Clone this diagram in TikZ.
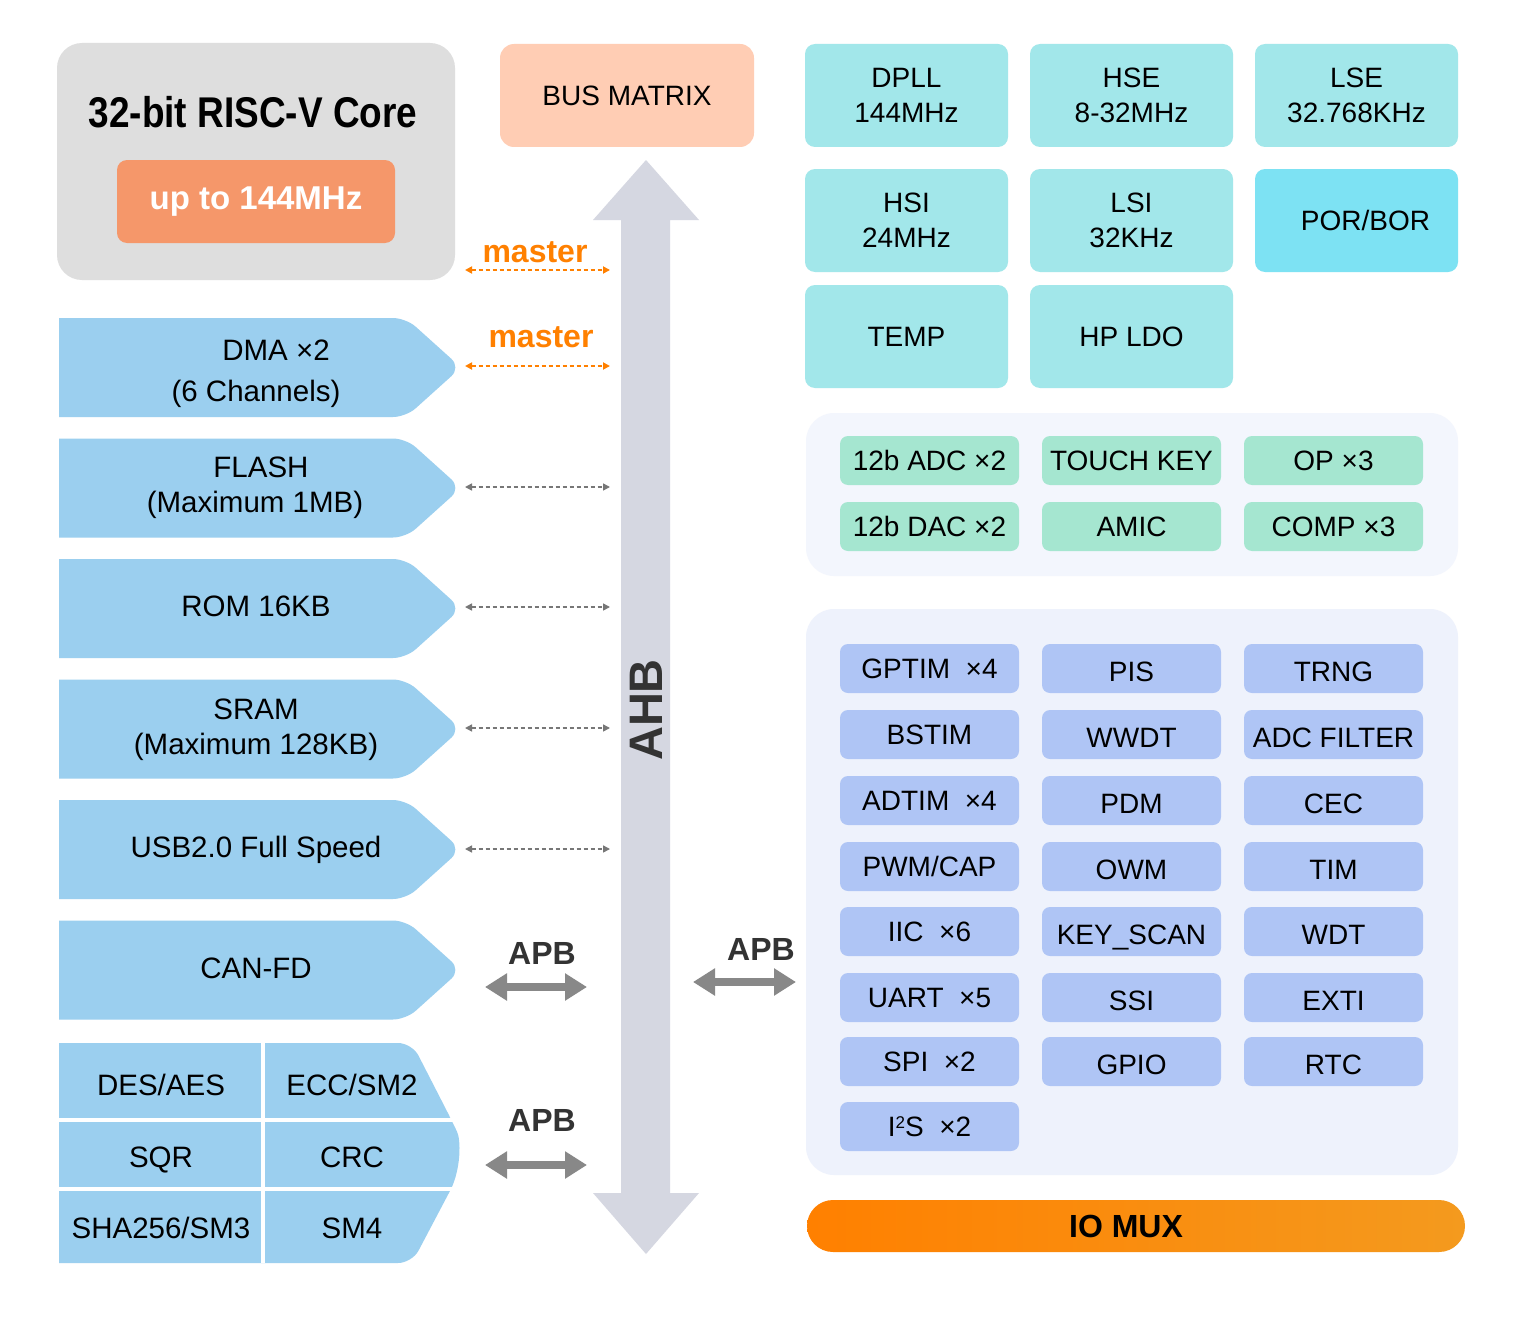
\documentclass[tikz,border=0pt]{standalone}
\usepackage{fontspec}
\setmainfont{Liberation Sans}
\usetikzlibrary{arrows.meta}
\definecolor{memc}{HTML}{9BCFEF}
\definecolor{clkc}{HTML}{A2E7EA}
\definecolor{porc}{HTML}{7DE2F3}
\definecolor{anac}{HTML}{A5E6D0}
\definecolor{perc}{HTML}{AFC5F5}
\definecolor{anapanel}{HTML}{F3F6FD}
\definecolor{perpanel}{HTML}{EEF2FC}
\definecolor{corec}{HTML}{DEDEDE}
\definecolor{salmonc}{HTML}{F5976A}
\definecolor{peachc}{HTML}{FFCDB4}
\definecolor{ahbc}{HTML}{D5D7E1}
\definecolor{masterc}{HTML}{FF8000}
\definecolor{dotc}{HTML}{777777}
\definecolor{apbc}{HTML}{888888}
\definecolor{darkt}{HTML}{333333}
\definecolor{muxl}{HTML}{FF8000}
\definecolor{muxr}{HTML}{F49A1E}
\newcommand\rtfont{\fontsize{28}{35}\selectfont}
\newcommand\lftfont{\fontsize{29.5}{36}\selectfont}
\begin{document}
\begin{tikzpicture}[x=1pt,y=-1pt,
  clk/.style={fill=clkc, rounded corners=10pt, minimum width=203pt, minimum height=103pt, inner sep=0pt, font=\rtfont, align=center},
  ana/.style={fill=anac, rounded corners=8pt, minimum width=179pt, minimum height=49pt, inner sep=0pt, font=\rtfont},
  per/.style={fill=perc, rounded corners=8pt, minimum width=179pt, minimum height=49pt, inner sep=0pt, font=\rtfont},
  perlo/.style={per, text height=26pt, text depth=0pt},
  memtxt/.style={font=\lftfont, inner sep=0pt},
  mstr/.style={font=\fontsize{32}{36}\selectfont\bfseries, text=masterc, inner sep=0pt},
  apbtxt/.style={font=\fontsize{32}{36}\selectfont\bfseries, text=darkt, inner sep=0pt},
  odash/.style={draw=masterc, line width=1.8pt, dash pattern=on 4pt off 3pt, {Triangle[length=7pt,width=7pt]}-{Triangle[length=7pt,width=7pt]}},
  gdash/.style={draw=dotc, line width=1.5pt, dash pattern=on 4pt off 3pt, {Triangle[length=7pt,width=7pt]}-{Triangle[length=7pt,width=7pt]}},
  apb/.style={draw=apbc, line width=8pt, {Triangle[length=22pt,width=26pt]}-{Triangle[length=22pt,width=26pt]}}
]
\useasboundingbox (0,0) rectangle (1523,1327);
\fill[white] (0,0) rectangle (1523,1327);

% ---------- core ----------
\node[fill=corec, rounded corners=25pt, minimum width=398pt, minimum height=237pt, inner sep=0pt] (core) at (256,161.5) {};
\node[font=\fontsize{43}{48}\selectfont\bfseries, inner sep=0pt] (coretitle) at (253,112) {\scalebox{0.86}[1]{32-bit RISC-V Core}};
\node[fill=salmonc, rounded corners=10pt, minimum width=278pt, minimum height=83pt, inner sep=0pt, text=white, font=\fontsize{33}{38}\selectfont\bfseries] (freq) at (256,201.5) {up to 144MHz};

% ---------- bus matrix ----------
\node[fill=peachc, rounded corners=14pt, minimum width=254pt, minimum height=103pt, inner sep=0pt, font=\rtfont] (busm) at (627,95.5) {BUS MATRIX};

% ---------- AHB ----------
\fill[ahbc] (621,220) -- (593,220) -- (646,160) -- (699,220) -- (670,220) -- (670,1193) -- (699,1193) -- (646,1254) -- (593,1193) -- (621,1193) -- cycle;
\node[rotate=90, font=\fontsize{47}{50}\selectfont\bfseries, text=darkt, inner sep=0pt] (ahb) at (646,710) {AHB};

% ---------- memory blocks ----------
\begin{scope}
\clip (59,0) rectangle (520,1327);
\foreach \t in {318,438.5,559,679.5,800,920.5}{
  \fill[memc, rounded corners=13pt] (30,\t) -- (406,\t) -- (461,\t+49.5) -- (406,\t+99) -- (30,\t+99) -- cycle;
}
\fill[memc, rounded corners=14pt] (30,1043) -- (412,1043) -- (451,1119) [sharp corners] .. controls (461,1140) and (461,1168) .. (451,1189) [rounded corners=14pt] -- (412,1263) -- (30,1263) -- cycle;
\end{scope}
\fill[white] (261,1043) rectangle (265,1263);
\fill[white] (59,1118) rectangle (470,1122);
\fill[white] (59,1187) rectangle (470,1191);

\node[memtxt] (dma1) at (276,350) {DMA ×2};
\node[memtxt] (dma2) at (256,394) {(6 Channels)};
\node[memtxt] (flash1) at (261,467) {FLASH};
\node[memtxt] (flash2) at (255,505) {(Maximum 1MB)};
\node[memtxt] (rom) at (256,606) {ROM 16KB};
\node[memtxt] (sram1) at (256,709) {SRAM};
\node[memtxt] (sram2) at (256,747) {(Maximum 128KB)};
\node[memtxt] (usb) at (256,850) {USB2.0 Full Speed};
\node[memtxt] (can) at (256,968) {CAN-FD};
\node[memtxt] (desaes) at (161,1085) {DES/AES};
\node[memtxt] (ecc) at (352,1085) {ECC/SM2};
\node[memtxt] (sqr) at (161,1160) {SQR};
\node[memtxt] (crc) at (352,1157) {CRC};
\node[memtxt] (sha) at (161,1228) {SHA256/SM3};
\node[memtxt] (sm4) at (352,1228) {SM4};

% ---------- master / dotted connectors ----------
\coordinate (coreL) at (465,270);  \coordinate (coreR) at (610,270);
\coordinate (dmaL) at (465,366);   \coordinate (dmaR) at (610,366);
\coordinate (flashL) at (465,487); \coordinate (flashR) at (610,487);
\coordinate (romL) at (465,607);   \coordinate (romR) at (610,607);
\coordinate (sramL) at (465,728);  \coordinate (sramR) at (610,728);
\coordinate (usbL) at (465,849);   \coordinate (usbR) at (610,849);
\draw[odash] (coreL) -- (coreR);
\draw[odash] (dmaL) -- (dmaR);
\draw[gdash] (flashL) -- (flashR);
\draw[gdash] (romL) -- (romR);
\draw[gdash] (sramL) -- (sramR);
\draw[gdash] (usbL) -- (usbR);
\node[mstr] (m1) at (535,252) {master};
\node[mstr] (m2) at (541,337) {master};

% ---------- APB ----------
\coordinate (apb1L) at (485,987);  \coordinate (apb1R) at (587,987);
\coordinate (apb2L) at (485,1165); \coordinate (apb2R) at (587,1165);
\coordinate (apb3L) at (693,982);  \coordinate (apb3R) at (796,982);
\draw[apb] (apb1L) -- (apb1R);
\draw[apb] (apb2L) -- (apb2R);
\draw[apb] (apb3L) -- (apb3R);
\node[apbtxt] (apbt1) at (542,953) {APB};
\node[apbtxt] (apbt2) at (542,1120) {APB};
\node[apbtxt] (apbt3) at (761,949) {APB};

% ---------- clock boxes ----------
\node[clk] (dpll) at (906.5,95.5) {DPLL\\144MHz};
\node[clk] (hse) at (1131.5,95.5) {HSE\\8-32MHz};
\node[clk] (lse) at (1356.5,95.5) {LSE\\32.768KHz};
\node[clk] (hsi) at (906.5,220.5) {HSI\\24MHz};
\node[clk] (lsi) at (1131.5,220.5) {LSI\\32KHz};
\node[clk, fill=porc] (por) at (1356.5,220.5) {\hspace*{18pt}POR/BOR};
\node[clk] (temp) at (906.5,336.5) {TEMP};
\node[clk] (ldo) at (1131.5,336.5) {HP LDO};

% ---------- analog panel ----------
\node[fill=anapanel, rounded corners=28pt, minimum width=652pt, minimum height=163pt, inner sep=0pt] (anap) at (1132,494.5) {};
\node[ana] (adc) at (929.5,460.5) {12b ADC ×2};
\node[ana] (touch) at (1131.5,460.5) {TOUCH KEY};
\node[ana] (op) at (1333.5,460.5) {OP ×3};
\node[ana] (dac) at (929.5,526.5) {12b DAC ×2};
\node[ana] (amic) at (1131.5,526.5) {AMIC};
\node[ana] (comp) at (1333.5,526.5) {COMP ×3};

% ---------- peripheral panel ----------
\node[fill=perpanel, rounded corners=28pt, minimum width=652pt, minimum height=566pt, inner sep=0pt] (perp) at (1132,892) {};
\node[per] (gptim) at (929.5,668.5) {GPTIM~~×4};
\node[perlo] (pis) at (1131.5,668.5) {PIS};
\node[perlo] (trng) at (1333.5,668.5) {TRNG};
\node[per] (bstim) at (929.5,734.5) {BSTIM};
\node[perlo] (wwdt) at (1131.5,734.5) {WWDT};
\node[perlo] (adcf) at (1333.5,734.5) {ADC FILTER};
\node[per] (adtim) at (929.5,800.5) {ADTIM~~×4};
\node[perlo] (pdm) at (1131.5,800.5) {PDM};
\node[perlo] (cec) at (1333.5,800.5) {CEC};
\node[per] (pwm) at (929.5,866.5) {PWM/CAP};
\node[perlo] (owm) at (1131.5,866.5) {OWM};
\node[perlo] (tim) at (1333.5,866.5) {TIM};
\node[per] (iic) at (929.5,931.5) {IIC~~×6};
\node[perlo] (keys) at (1131.5,931.5) {KEY\_SCAN};
\node[perlo] (wdt) at (1333.5,931.5) {WDT};
\node[per] (uart) at (929.5,997.5) {UART~~×5};
\node[perlo] (ssi) at (1131.5,997.5) {SSI};
\node[perlo] (exti) at (1333.5,997.5) {EXTI};
\node[per] (spi) at (929.5,1061.5) {SPI~~×2};
\node[perlo] (gpio) at (1131.5,1061.5) {GPIO};
\node[perlo] (rtc) at (1333.5,1061.5) {RTC};
\node[per] (i2s) at (929.5,1126.5) {I\raisebox{0.55ex}{\fontsize{17}{17}\selectfont 2}S~~×2};

% ---------- IO MUX ----------
\shade[left color=muxl, right color=muxr, rounded corners=26pt] (807,1200) rectangle (1465,1252);
\node[font=\fontsize{32}{36}\selectfont\bfseries, inner sep=0pt] (iomux) at (1126,1226) {IO MUX};
\end{tikzpicture}
\end{document}
